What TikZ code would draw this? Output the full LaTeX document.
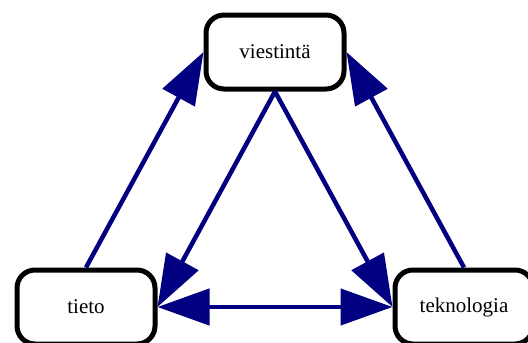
\documentclass[tikz,border=0pt]{standalone}
\usepackage{fontspec}
\setmainfont{Liberation Serif}
\usetikzlibrary{arrows.meta,positioning}
\definecolor{navyblue}{RGB}{0,0,128}

\begin{document}
\begin{tikzpicture}[
    x=1pt, y=-1pt,
    conceptbox/.style={rectangle, rounded corners=18pt, minimum width=138pt, minimum height=74pt, text centered, draw=black, line width=5pt, fill=white, font=\fontsize{21}{25}\selectfont},
    arrow/.style={draw=navyblue, line width=4.5pt, -{Triangle[length=52pt,width=36pt]}},
    biarrow/.style={draw=navyblue, line width=4.5pt, {Triangle[length=52pt,width=36pt]}-{Triangle[length=52pt,width=36pt]}}
]
\useasboundingbox (0,0) rectangle (528,343);

% Concepts
\node[conceptbox] (viest) at (275,52) {viestintä};
\node[conceptbox] (tieto) at (86,307) {tieto};
\node[conceptbox] (tekno) at (464,307) {teknologia};

% Arrows
\draw[arrow] (tieto.north) -- (viest.west);
\draw[arrow] (tekno.north) -- (viest.east);
\draw[arrow] (viest.south) -- (tieto.east);
\draw[arrow] (viest.south) -- (tekno.west);
\draw[biarrow] (tieto.east) -- (tekno.west);

\end{tikzpicture}
\end{document}
